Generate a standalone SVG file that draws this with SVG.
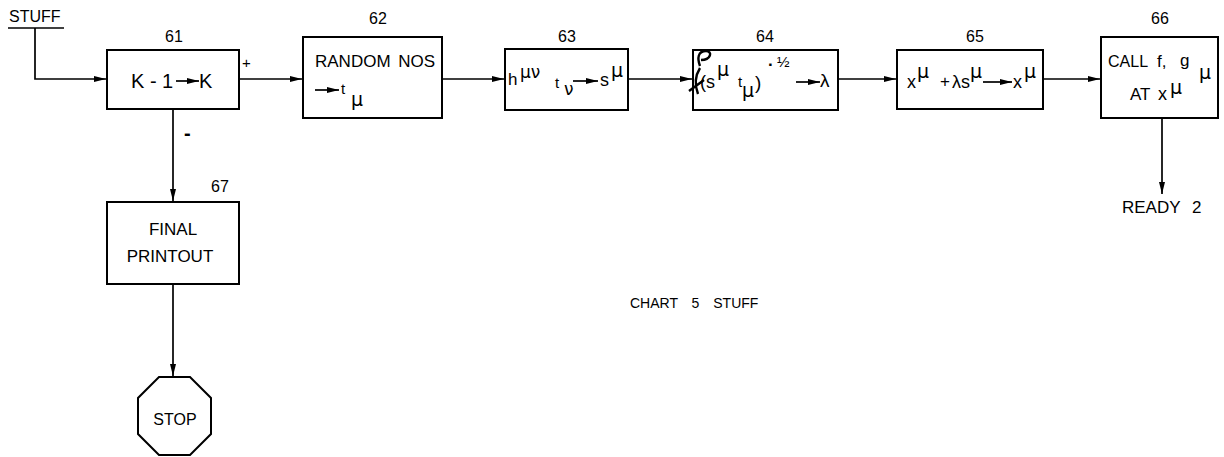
<svg xmlns="http://www.w3.org/2000/svg" width="1224" height="457" viewBox="0 0 1224 457">
<defs>
<marker id="ah" markerUnits="userSpaceOnUse" markerWidth="14" markerHeight="10" refX="12" refY="4" orient="auto">
<path d="M0,1 L12,4 L0,7 Z" fill="#000"/>
</marker>
<style>
.box{fill:#fff;stroke:#000;stroke-width:2}
.ln{fill:none;stroke:#000;stroke-width:1.7}
.t{font-family:"Liberation Sans",Arial,sans-serif;font-size:17px;fill:#000}
.n{font-family:"Liberation Sans",Arial,sans-serif;font-size:16px;fill:#000;text-anchor:middle}
.s{font-family:"Liberation Sans",Arial,sans-serif;font-size:15px;fill:#000}
.g{font-family:"DejaVu Sans",sans-serif;font-size:19px;fill:#000}
</style>
</defs>
<rect width="1224" height="457" fill="#fff"/>

<g id="connectors">
<line class="ln" x1="8" y1="28" x2="64" y2="28"/>
<path class="ln" d="M35 28 V79 H106" marker-end="url(#ah)"/>
<path class="ln" d="M239 79 H302" marker-end="url(#ah)"/>
<path class="ln" d="M442 79 H504" marker-end="url(#ah)"/>
<path class="ln" d="M628 79 H692" marker-end="url(#ah)"/>
<path class="ln" d="M838 79 H896" marker-end="url(#ah)"/>
<path class="ln" d="M1043 79 H1100" marker-end="url(#ah)"/>
<path class="ln" d="M1162 118 V194" marker-end="url(#ah)"/>
<path class="ln" d="M173 109 V201" marker-end="url(#ah)"/>
<path class="ln" d="M173 284 V376" marker-end="url(#ah)"/>
<text class="s" x="242" y="68">+</text>
<text class="t" x="184" y="140" style="font-size:20px;font-weight:bold">-</text>
</g>

<text class="t" x="9" y="22" style="font-size:16px">STUFF</text>

<g id="n61">
<rect class="box" x="107" y="50" width="132" height="59"/>
<text class="n" x="174" y="42">61</text>
<text class="t" x="131" y="88" style="font-size:20px">K - 1</text>
<path class="ln" d="M176 81 H199" marker-end="url(#ah)"/>
<text class="t" x="199" y="88" style="font-size:20px">K</text>
</g>

<g id="n62">
<rect class="box" x="303" y="37" width="139" height="81"/>
<text class="n" x="378" y="24">62</text>
<text class="t" x="315" y="67" style="word-spacing:3px">RANDOM NOS</text>
<path class="ln" d="M315 90 H339" marker-end="url(#ah)"/>
<text class="s" x="341" y="94">t</text>
<text class="g" x="351" y="106">μ</text>
</g>

<g id="n63">
<rect class="box" x="505" y="49" width="123" height="61"/>
<text class="n" x="567" y="42">63</text>
<text class="t" x="508" y="85">h</text>
<text class="g" x="520" y="78" style="font-size:17px">μν</text>
<text class="s" x="555" y="88">t</text>
<text class="g" x="564" y="95" style="font-size:17px">ν</text>
<path class="ln" d="M573 81 H598" marker-end="url(#ah)"/>
<text class="t" x="600" y="86" style="font-size:18px">s</text>
<text class="g" x="611" y="77">μ</text>
</g>

<g id="n64">
<rect class="box" x="693" y="50" width="145" height="60"/>
<text class="n" x="765" y="42">64</text>
<path class="ln" d="M700 66 C697 58 698 51 706 51 C713 51 711 60 701 60 M700 68 C695 76 695 86 698 94 M689 91 L704 80" style="stroke-width:2.4"/>
<text class="t" x="700" y="88" style="font-size:18px">(s</text>
<text class="g" x="717" y="76">μ</text>
<text class="s" x="738" y="87">t</text>
<text class="g" x="742" y="97">μ</text>
<text class="t" x="755" y="89" style="font-size:19px">)</text>
<text class="t" x="768" y="70" style="font-weight:bold">·</text>
<text class="s" x="777" y="67">½</text>
<path class="ln" d="M796 82 H820" marker-end="url(#ah)"/>
<text class="t" x="820" y="87" style="font-size:19px">λ</text>
</g>

<g id="n65">
<rect class="box" x="897" y="50" width="146" height="59"/>
<text class="n" x="975" y="42">65</text>
<text class="t" x="907" y="88" style="font-size:18px">x</text>
<text class="g" x="917" y="78">μ</text>
<text class="t" x="940" y="87">+</text>
<text class="t" x="952" y="88" style="font-size:18px">λs</text>
<text class="g" x="970" y="78">μ</text>
<path class="ln" d="M983 82 H1012" marker-end="url(#ah)"/>
<text class="t" x="1013" y="88" style="font-size:18px">x</text>
<text class="g" x="1024" y="78">μ</text>
</g>

<g id="n66">
<rect class="box" x="1101" y="37" width="117" height="81"/>
<text class="n" x="1160" y="24">66</text>
<text class="t" x="1108" y="67" style="font-size:16px">CALL</text>
<text class="t" x="1157" y="67">f,</text>
<text class="t" x="1180" y="66">g</text>
<text class="g" x="1199" y="79">μ</text>
<text class="t" x="1130" y="100">AT</text>
<text class="t" x="1158" y="100" style="font-size:18px">x</text>
<text class="g" x="1170" y="94">μ</text>
</g>

<g id="ready2">
<text class="t" x="1122" y="213" style="word-spacing:7px">READY 2</text>
</g>

<g id="n67">
<rect class="box" x="107" y="202" width="132" height="82"/>
<text class="n" x="220" y="192">67</text>
<text class="t" x="173" y="235" text-anchor="middle">FINAL</text>
<text class="t" x="170" y="262" text-anchor="middle">PRINTOUT</text>
</g>

<g id="stop">
<polygon class="box" points="159,377 190,377 211,398 211,434 190,455 159,455 138,434 138,398"/>
<text class="t" x="175" y="425" text-anchor="middle" style="font-size:16px">STOP</text>
</g>

<text class="t" x="630" y="308" style="font-size:14px;word-spacing:10px">CHART 5 STUFF</text>
</svg>
